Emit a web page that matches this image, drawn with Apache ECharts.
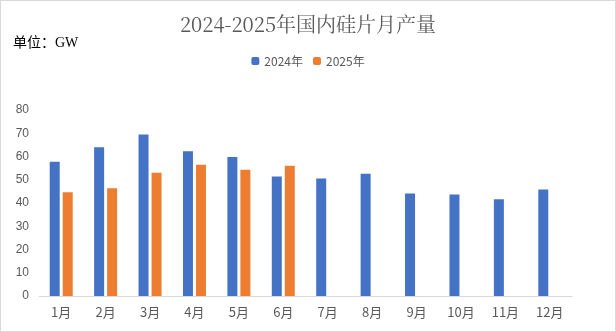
<!DOCTYPE html>
<html><head><meta charset="utf-8">
<script src="https://cdn.jsdelivr.net/npm/echarts@6/dist/echarts.min.js"></script>
<style>html,body{margin:0;padding:0;background:#fff}#c{width:616px;height:332px;box-sizing:border-box;border:1px solid #d9d9d9}</style>
</head><body><div id="c"></div>
<script>
var categories = ['1月','2月','3月','4月','5月','6月','7月','8月','9月','10月','11月','12月'];
var series2024 = [57.7, 64.0, 69.5, 62.3, 59.8, 51.4, 50.5, 52.6, 44.1, 43.7, 41.6, 45.8];
var series2025 = [44.6, 46.3, 53.0, 56.4, 54.3, 56.0];
var yTicks = {min: 0, max: 80, interval: 10};

var chart = echarts.init(document.getElementById('c'));
chart.setOption({
  animation: false,
  title: [{
    text: '2024-2025年国内硅片月产量', left: 'center', top: 8,
    textStyle: {fontFamily: 'Noto Serif CJK SC, Liberation Serif, serif', fontWeight: 'normal', fontSize: 20, color: '#595959'}
  }, {
    text: '单位：GW', left: 7, top: 30,
    textStyle: {fontFamily: 'Liberation Serif, Noto Sans CJK SC, serif', fontWeight: 'normal', fontSize: 14, color: '#000'}
  }],
  legend: {
    top: 49, left: 'center', itemWidth: 8, itemHeight: 8, itemGap: 10,
    textStyle: {fontSize: 12, color: '#595959', fontFamily: 'Noto Sans CJK SC, sans-serif'},
    data: ['2024年', '2025年']
  },
  grid: {left: 38, right: 43, top: 109, bottom: 35, containLabel: false},
  xAxis: {
    type: 'category', data: categories,
    axisLine: {lineStyle: {color: '#d9d9d9'}},
    axisTick: {show: false},
    axisLabel: {color: '#595959', fontSize: 13, margin: 10, fontFamily: 'Noto Sans CJK SC, sans-serif'}
  },
  yAxis: {
    type: 'value', min: yTicks.min, max: yTicks.max, interval: yTicks.interval,
    splitLine: {show: false}, axisLine: {show: false}, axisTick: {show: false},
    axisLabel: {color: '#595959', fontSize: 12, margin: 10}
  },
  series: [{
    name: '2024年', type: 'bar', data: series2024, barWidth: 10, barGap: '30%',
    itemStyle: {color: '#4472C4'}
  }, {
    name: '2025年', type: 'bar', data: series2025, barWidth: 10,
    itemStyle: {color: '#ED7D31'}
  }]
});
</script></body></html>
